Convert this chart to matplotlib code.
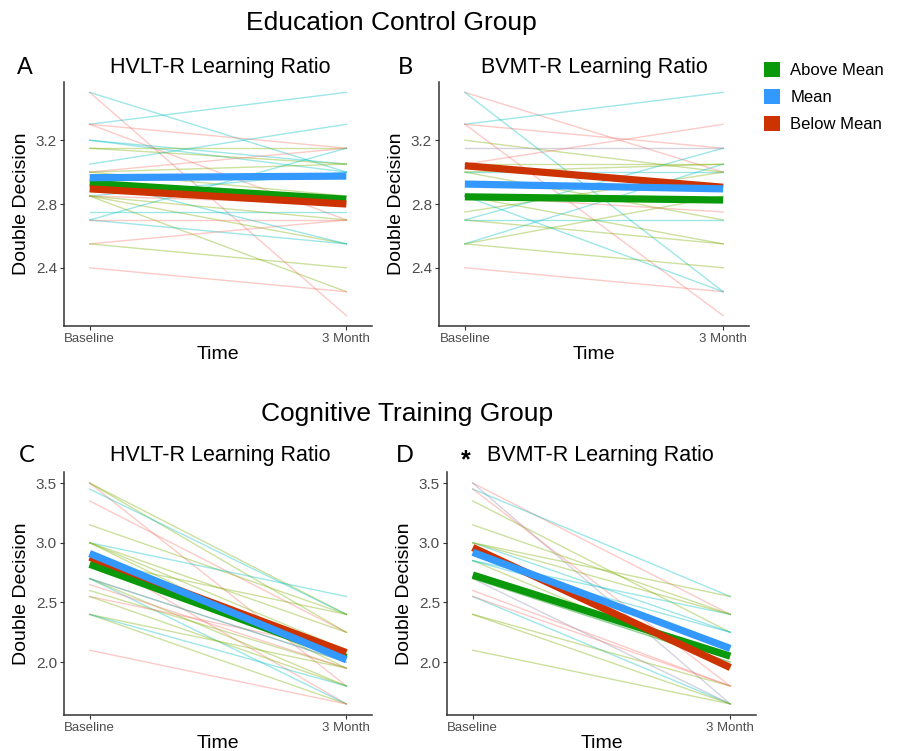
import matplotlib
matplotlib.use("Agg")
import matplotlib.pyplot as plt
from matplotlib.patches import Patch

plt.rcParams["font.family"] = ["Liberation Sans", "DejaVu Sans"]

# thin individual lines: baseline value, 3-month value, colour code
a_base = [3.5, 3.5, 3.3, 3.3, 3.3, 3.2, 3.2, 3.15, 3.15, 3.05, 3.0, 3.0, 3.0,
          2.85, 2.85, 2.85, 2.85, 2.75, 2.7, 2.7, 2.7, 2.55, 2.55, 2.4, 2.95, 2.85]
a_m3 = [3.0, 2.1, 3.5, 3.15, 2.7, 3.0, 3.05, 3.05, 3.15, 3.3, 3.05, 3.15, 2.85,
        3.0, 2.55, 2.25, 2.8, 2.75, 2.55, 2.7, 3.15, 2.7, 2.4, 2.25, 2.55, 2.7]
a_col = ["t", "r", "t", "r", "r", "t", "t", "g", "g", "t", "g", "r", "g",
         "t", "g", "g", "r", "t", "t", "r", "t", "r", "g", "r", "t", "g"]

b_base = [3.5, 3.5, 3.3, 3.3, 3.3, 3.2, 3.15, 3.05, 3.0, 3.0, 3.0, 2.85,
          2.75, 2.7, 2.7, 2.55, 2.55, 2.55, 2.4, 2.85, 2.7, 2.85, 3.05]
b_m3 = [3.0, 2.25, 3.5, 2.1, 3.15, 3.0, 3.15, 3.3, 3.05, 2.7, 3.0, 2.55,
        3.0, 2.7, 3.15, 2.85, 3.05, 2.4, 2.25, 2.75, 2.55, 2.25, 3.05]
b_col = ["r", "t", "t", "r", "r", "g", "p", "r", "g", "g", "t", "g",
         "g", "t", "t", "g", "t", "g", "r", "r", "g", "t", "g"]

c_base = [3.5, 3.5, 3.5, 3.45, 3.35, 3.15, 3.0, 3.0, 3.0, 2.9, 2.7, 2.7,
          2.7, 2.6, 2.55, 2.55, 2.4, 2.4, 2.1, 2.7, 2.85, 2.4, 3.0, 2.65]
c_m3 = [2.4, 2.25, 1.8, 2.4, 2.25, 2.4, 2.55, 1.95, 2.25, 1.65, 2.0, 1.65,
        1.8, 1.95, 2.1, 1.8, 1.95, 1.65, 1.65, 2.0, 2.4, 1.8, 2.1, 1.95]
c_col = ["g", "g", "r", "t", "r", "g", "t", "g", "g", "r", "r", "t",
         "g", "g", "r", "g", "g", "g", "r", "t", "g", "t", "g", "r"]

d_base = [3.5, 3.5, 3.45, 3.35, 3.45, 3.15, 3.0, 3.0, 2.85, 2.85, 2.6,
          2.55, 2.7, 2.4, 2.4, 2.1, 2.55, 2.7, 2.7, 3.0, 2.85]
d_m3 = [2.4, 1.65, 2.55, 2.25, 1.8, 2.4, 2.25, 2.55, 2.4, 1.95, 1.8,
        1.65, 1.65, 1.8, 1.65, 1.65, 1.8, 2.0, 2.0, 2.4, 2.25]
d_col = ["r", "p", "t", "g", "r", "g", "t", "g", "t", "g", "r",
         "t", "p", "g", "g", "g", "r", "t", "g", "g", "t"]

# group means: [Above Mean, Mean, Below Mean]
a_mean_base = [2.93, 2.965, 2.895]
a_mean_m3 = [2.83, 2.975, 2.80]
b_mean_base = [2.845, 2.925, 3.04]
b_mean_m3 = [2.825, 2.895, 2.905]
c_mean_base = [2.82, 2.91, 2.88]
c_mean_m3 = [2.04, 2.02, 2.08]
d_mean_base = [2.73, 2.92, 2.96]
d_mean_m3 = [2.05, 2.115, 1.955]

time_labels = ["Baseline", "3 Month"]
group_labels = ["Above Mean", "Mean", "Below Mean"]
group_colors = ["#0A990A", "#3399FF", "#CC3300"]
thin_colors = {"r": "#F8766D", "g": "#7CAE00", "t": "#00BFC4", "p": "#8E8EB0"}


def draw_panel(ax, base, m3, cols, mean_base, mean_m3, yticks, ylim):
    for y0, y1, c in zip(base, m3, cols):
        ax.plot([0, 1], [y0, y1], color=thin_colors[c], lw=1.0, alpha=0.38)
    for i in [0, 2, 1]:
        ax.plot([0, 1], [mean_base[i], mean_m3[i]], color=group_colors[i],
                lw=5.2, solid_capstyle="butt")
    ax.set_xlim(-0.1, 1.1)
    ax.set_ylim(*ylim)
    ax.set_xticks([0, 1])
    ax.set_xticklabels(time_labels)
    ax.set_yticks(yticks)
    ax.set_yticklabels([f"{t:.1f}" for t in yticks])
    for s in ["top", "right"]:
        ax.spines[s].set_visible(False)
    for s in ["left", "bottom"]:
        ax.spines[s].set_color("#333333")
        ax.spines[s].set_linewidth(1.1)
    ax.tick_params(axis="both", colors="#333333", labelcolor="#4D4D4D",
                   length=3, width=0.8, pad=2)
    ax.tick_params(axis="x", labelsize=9.5)
    ax.tick_params(axis="y", labelsize=11)
    ax.set_xlabel("Time", fontsize=14, labelpad=1)
    ax.set_ylabel("Double Decision", fontsize=14, labelpad=4)


W, H = 897, 751
fig = plt.figure(figsize=(W / 100, H / 100), dpi=100)


def add_axes(left, top, right, bottom):
    return fig.add_axes([left / W, 1 - bottom / H, (right - left) / W, (bottom - top) / H])


ax_a = add_axes(64, 82, 372, 326)
ax_b = add_axes(439, 82, 749, 326)
ax_c = add_axes(64, 472, 372, 715)
ax_d = add_axes(447, 472, 756, 715)

top_lim = (2.035, 3.565)
bot_lim = (1.5575, 3.5925)
draw_panel(ax_a, a_base, a_m3, a_col, a_mean_base, a_mean_m3, [2.4, 2.8, 3.2], top_lim)
draw_panel(ax_b, b_base, b_m3, b_col, b_mean_base, b_mean_m3, [2.4, 2.8, 3.2], top_lim)
draw_panel(ax_c, c_base, c_m3, c_col, c_mean_base, c_mean_m3, [2.0, 2.5, 3.0, 3.5], bot_lim)
draw_panel(ax_d, d_base, d_m3, d_col, d_mean_base, d_mean_m3, [2.0, 2.5, 3.0, 3.5], bot_lim)

# group and panel titles
fig.text(391 / W, 1 - 23 / H, "Education Control Group", fontsize=19, ha="center", va="center")
fig.text(407 / W, 1 - 414 / H, "Cognitive Training Group", fontsize=19, ha="center", va="center")
fig.text(220 / W, 1 - 68 / H, "HVLT-R Learning Ratio", fontsize=15.5, ha="center", va="center")
fig.text(594 / W, 1 - 68 / H, "BVMT-R Learning Ratio", fontsize=15.5, ha="center", va="center")
fig.text(220 / W, 1 - 456 / H, "HVLT-R Learning Ratio", fontsize=15.5, ha="center", va="center")
fig.text(600 / W, 1 - 456 / H, "BVMT-R Learning Ratio", fontsize=15.5, ha="center", va="center")
fig.text(466 / W, 1 - 460 / H, "*", fontsize=18, fontweight="bold", ha="center", va="center")

fig.text(25 / W, 1 - 68 / H, "A", fontsize=17, ha="center", va="center")
fig.text(405 / W, 1 - 68 / H, "B", fontsize=17, ha="center", va="center", family=["Lato", "DejaVu Sans"])
fig.text(27 / W, 1 - 456 / H, "C", fontsize=17, ha="center", va="center", family=["Lato", "DejaVu Sans"])
fig.text(405 / W, 1 - 456 / H, "D", fontsize=17, ha="center", va="center", family=["Lato", "DejaVu Sans"])

handles = [Patch(facecolor=c, edgecolor="none", label=l) for c, l in zip(group_colors, group_labels)]
fig.legend(handles=handles, loc="upper left", bbox_to_anchor=(757 / W, 1 - 55 / H),
           frameon=False, fontsize=12, handlelength=1.0, handleheight=1.0,
           labelspacing=0.65, handletextpad=0.6, borderaxespad=0)

fig.savefig("out.png", dpi=100)
